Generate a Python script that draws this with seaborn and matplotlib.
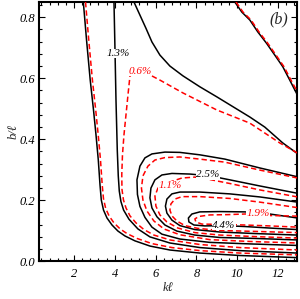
import matplotlib
matplotlib.use("Agg")
import matplotlib.pyplot as plt
import seaborn as sns
import pandas as pd
from matplotlib.ticker import MultipleLocator, FixedLocator

# ---------------- data (data units) ----------------
# black (solid) contour curves: x = k*l, y = b/l
blk_outer_x = [2.457, 2.614, 2.795, 2.956, 3.079, 3.191, 3.275, 3.338, 3.446, 3.617, 3.862, 4.156, 4.499, 4.988, 5.723, 6.702, 8.170, 10.128, 12.95]
blk_outer_y = [0.850, 0.726, 0.594, 0.496, 0.414, 0.332, 0.250, 0.201, 0.168, 0.142, 0.119, 0.099, 0.083, 0.067, 0.050, 0.037, 0.027, 0.019, 0.012]

blk_13_x = [3.960, 4.009, 4.058, 4.121, 4.170, 4.220, 4.300, 4.430, 4.694, 5.135, 5.722, 6.701, 8.170, 10.127, 12.95]
blk_13_y = [0.850, 0.693, 0.529, 0.365, 0.280, 0.230, 0.196, 0.168, 0.138, 0.106, 0.080, 0.060, 0.045, 0.035, 0.027]

blk_diag_x = [4.939, 5.232, 5.526, 5.820, 6.211, 6.701, 7.337, 8.170, 9.002, 9.883, 10.617, 11.351, 12.232, 12.95]
blk_diag_y = [0.850, 0.807, 0.764, 0.719, 0.676, 0.640, 0.608, 0.572, 0.539, 0.503, 0.473, 0.440, 0.388, 0.353]

blk_corner_x = [9.882, 10.225, 10.617, 11.008, 11.434, 11.841, 12.232, 12.575, 12.95]
blk_corner_y = [0.850, 0.817, 0.791, 0.752, 0.715, 0.676, 0.638, 0.594, 0.545]

blk_loop1_x = [12.95, 11.106, 9.393, 8.170, 7.190, 6.456, 5.820, 5.477, 5.232, 5.086, 5.110, 5.232, 5.477, 5.820, 6.309, 7.190, 8.658, 10.616, 12.95]
blk_loop1_y = [0.277, 0.306, 0.335, 0.349, 0.357, 0.358, 0.352, 0.339, 0.312, 0.267, 0.219, 0.180, 0.144, 0.112, 0.089, 0.073, 0.062, 0.057, 0.052]

blk_25_x = [12.95, 11.106, 9.638, 8.659, 7.680, 6.799, 6.309, 5.967, 5.771, 5.722, 5.820, 6.065, 6.456, 7.044, 7.925, 9.149, 10.862, 12.95]
blk_25_y = [0.223, 0.247, 0.267, 0.280, 0.286, 0.288, 0.283, 0.267, 0.240, 0.208, 0.175, 0.146, 0.119, 0.099, 0.086, 0.078, 0.075, 0.070]

blk_loop3_x = [12.95, 11.106, 9.638, 8.170, 7.190, 6.799, 6.554, 6.481, 6.554, 6.799, 7.190, 7.925, 9.149, 10.862, 12.95]
blk_loop3_y = [0.194, 0.211, 0.221, 0.227, 0.227, 0.221, 0.204, 0.181, 0.158, 0.135, 0.117, 0.104, 0.096, 0.091, 0.086]

blk_44_x = [12.95, 11.595, 10.372, 9.149, 8.170, 7.778, 7.607, 7.631, 7.876, 8.414, 9.344, 10.372, 11.595, 12.95]
blk_44_y = [0.142, 0.155, 0.162, 0.163, 0.162, 0.155, 0.142, 0.129, 0.119, 0.116, 0.117, 0.114, 0.109, 0.104]

# red (dashed) contour curves
red_outer_x = [2.565, 2.722, 2.903, 3.064, 3.187, 3.299, 3.383, 3.446, 3.554, 3.725, 3.970, 4.264, 4.596, 5.086, 5.820, 6.799, 8.170, 10.128, 12.95]
red_outer_y = [0.850, 0.726, 0.594, 0.496, 0.414, 0.332, 0.250, 0.205, 0.173, 0.148, 0.125, 0.106, 0.091, 0.075, 0.058, 0.045, 0.035, 0.027, 0.021]

red_06_x = [12.95, 12.085, 10.616, 9.001, 7.337, 6.211, 5.722, 5.233, 4.743, 4.645, 4.548, 4.449, 4.376, 4.342, 4.351, 4.425, 4.548, 4.743, 5.037, 5.428, 5.918, 6.701, 8.170, 10.127, 12.95]
red_06_y = [0.355, 0.388, 0.453, 0.496, 0.552, 0.594, 0.611, 0.624, 0.608, 0.545, 0.480, 0.414, 0.349, 0.285, 0.236, 0.201, 0.175, 0.149, 0.126, 0.104, 0.086, 0.070, 0.055, 0.045, 0.037]

red_corner_x = [9.94, 10.285, 10.677, 11.068, 11.494, 11.901, 12.292, 12.635, 12.95]
red_corner_y = [0.850, 0.817, 0.791, 0.752, 0.715, 0.676, 0.638, 0.594, 0.555]

red_loop1_x = [12.95, 11.106, 9.393, 8.170, 7.190, 6.456, 5.967, 5.624, 5.379, 5.306, 5.379, 5.575, 5.918, 6.408, 7.190, 8.658, 10.616, 12.95]
red_loop1_y = [0.273, 0.299, 0.325, 0.335, 0.342, 0.340, 0.332, 0.312, 0.280, 0.240, 0.201, 0.165, 0.132, 0.106, 0.087, 0.071, 0.065, 0.060]

red_11_x = [12.95, 11.106, 9.638, 8.659, 7.925, 7.289, 6.701, 6.113, 5.967, 6.015, 6.211, 6.554, 7.093, 7.925, 9.149, 10.862, 12.95]
red_11_y = [0.211, 0.234, 0.255, 0.268, 0.276, 0.273, 0.260, 0.240, 0.214, 0.181, 0.152, 0.129, 0.109, 0.094, 0.086, 0.081, 0.076]

red_loop3_x = [12.95, 11.106, 9.638, 8.170, 7.289, 6.945, 6.750, 6.701, 6.799, 7.044, 7.435, 8.071, 9.149, 10.862, 12.95]
red_loop3_y = [0.176, 0.194, 0.206, 0.212, 0.212, 0.204, 0.188, 0.168, 0.149, 0.132, 0.117, 0.108, 0.101, 0.098, 0.094]

red_19_x = [12.95, 11.595, 11.008, 10.372, 9.540, 8.659, 8.120, 7.925, 7.974, 8.268, 9.149, 10.372, 11.595, 12.95]
red_19_y = [0.148, 0.150, 0.157, 0.155, 0.153, 0.152, 0.147, 0.139, 0.129, 0.122, 0.121, 0.119, 0.116, 0.112]

# contour labels
label_text = ["1.3%", "0.6%", "2.5%", "1.1%", "4.4%", "1.9%"]
label_x = [4.16, 5.24, 8.57, 6.70, 9.34, 11.01]
label_y = [0.681, 0.623, 0.283, 0.249, 0.117, 0.157]
label_color = ["black", "red", "black", "red", "black", "red"]

x_ticks = [2, 4, 6, 8, 10, 12]
y_ticks = [0.0, 0.2, 0.4, 0.6, 0.8]
y_tick_labels = ["0.0", "0.2", "0.4", "0.6", "0.8"]

# ---------------- figure ----------------
sns.set_theme(style="ticks")
serif = ["Liberation Serif", "DejaVu Serif"]
plt.rcParams["font.family"] = serif
plt.rcParams["font.style"] = "italic"

fig = plt.figure(figsize=(3.0, 2.99), dpi=100)
ax = fig.add_axes([38.7 / 300, 1 - 261.3 / 299, (297 - 38.7) / 300, (261.3 - 2) / 299])

black_curves = [(blk_outer_x, blk_outer_y), (blk_13_x, blk_13_y), (blk_diag_x, blk_diag_y),
                (blk_corner_x, blk_corner_y), (blk_loop1_x, blk_loop1_y), (blk_25_x, blk_25_y),
                (blk_loop3_x, blk_loop3_y), (blk_44_x, blk_44_y)]
red_curves = [(red_outer_x, red_outer_y), (red_06_x, red_06_y), (red_corner_x, red_corner_y),
              (red_loop1_x, red_loop1_y), (red_11_x, red_11_y), (red_loop3_x, red_loop3_y),
              (red_19_x, red_19_y)]

for cx, cy in black_curves:
    df = pd.DataFrame({"x": cx, "y": cy})
    sns.lineplot(data=df, x="x", y="y", sort=False, estimator=None, ax=ax,
                 color="black", linewidth=1.1, zorder=2)
for cx, cy in red_curves:
    df = pd.DataFrame({"x": cx, "y": cy})
    sns.lineplot(data=df, x="x", y="y", sort=False, estimator=None, ax=ax,
                 color="#ff0000", linewidth=1.1, linestyle=(0, (3.5, 2.0)), zorder=3)

for t, lx, ly, c in zip(label_text, label_x, label_y, label_color):
    ax.text(lx, ly, t, color=c, fontsize=8, style="italic", family=serif,
            ha="center", va="center", zorder=5,
            bbox=dict(facecolor="white", edgecolor="none", pad=0.2))

ax.text(278.5 / 300, 1 - 19.5 / 299, "(b)", transform=fig.transFigure, fontsize=11.5,
        style="italic", family=serif, ha="center", va="center")

ax.set_xlim(0.27, 12.93)
ax.set_ylim(0.0, 0.85)
ax.xaxis.set_major_locator(FixedLocator(x_ticks))
ax.xaxis.set_minor_locator(MultipleLocator(0.4))
ax.yaxis.set_major_locator(FixedLocator(y_ticks))
ax.set_yticklabels(y_tick_labels)
ax.yaxis.set_minor_locator(MultipleLocator(0.04))

ax.tick_params(which="both", direction="in", top=True, right=True, colors="black")
ax.tick_params(which="major", length=4, width=0.8)
ax.tick_params(which="minor", length=2, width=0.8)
ax.tick_params(axis="x", which="major", pad=4.5, labelsize=9)
ax.tick_params(axis="y", which="major", pad=2.5, labelsize=9)
for lab in ax.get_xticklabels() + ax.get_yticklabels():
    lab.set_fontstyle("italic")
    lab.set_family(serif)

for s in ax.spines.values():
    s.set_linewidth(1.5)
    s.set_color("black")

ax.set_xlabel("kℓ", fontsize=9, style="italic", family=serif, labelpad=2)
ax.set_ylabel("b/ℓ", fontsize=9, style="italic", family=serif, labelpad=0)
ax.grid(False)

fig.savefig("out.png", dpi=100, facecolor="white")
